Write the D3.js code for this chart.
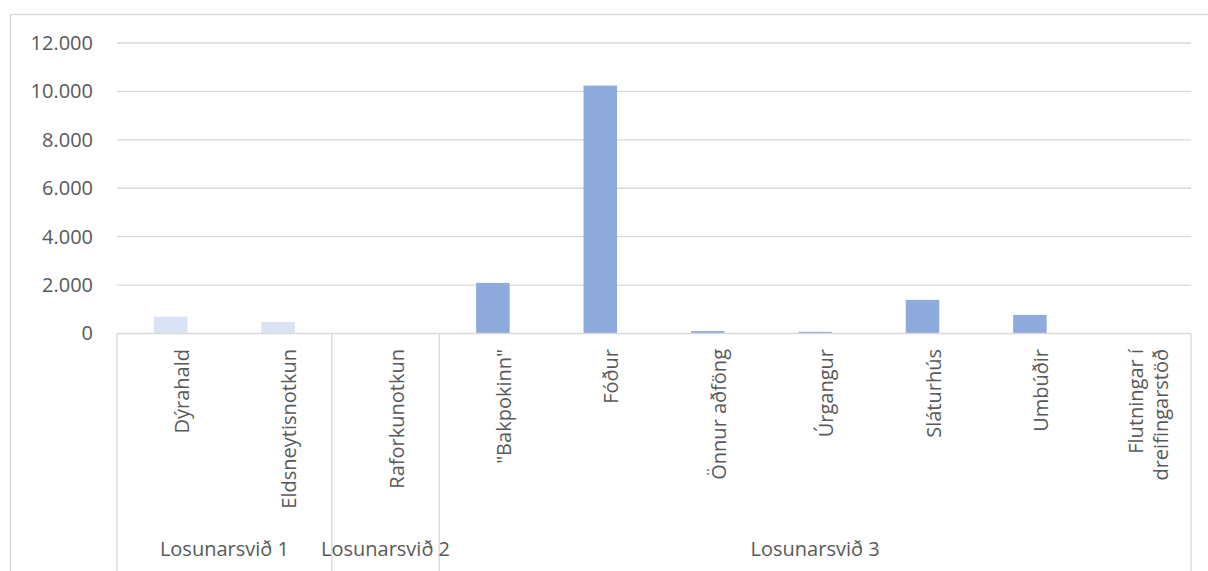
<!DOCTYPE html>
<html>
<head>
<meta charset="utf-8">
<script src="https://cdn.jsdelivr.net/npm/d3@7"></script>
<style>
  body { margin: 0; background: #fff; }
  text { font-family: "Open Sans", sans-serif; fill: #595959; }
</style>
</head>
<body>
<svg id="chart" width="1208" height="571"></svg>
<script>
// flokkar og gildi
var categories = ["Dýrahald", "Eldsneytisnotkun", "Raforkunotkun", "\"Bakpokinn\"", "Fóður",
  "Önnur aðföng", "Úrgangur", "Sláturhús", "Umbúðir", "Flutningar í\ndreifingarstöð"];
var groups = ["Losunarsvið 1", "Losunarsvið 1", "Losunarsvið 2", "Losunarsvið 3", "Losunarsvið 3",
  "Losunarsvið 3", "Losunarsvið 3", "Losunarsvið 3", "Losunarsvið 3", "Losunarsvið 3"];
var values = [700, 480, 0, 2090, 10240, 100, 70, 1390, 770, 0];
var yTicks = [0, 2000, 4000, 6000, 8000, 10000, 12000];
var groupNames = ["Losunarsvið 1", "Losunarsvið 2", "Losunarsvið 3"];
var groupColors = {"Losunarsvið 1": "#dae3f3", "Losunarsvið 2": "#8faadc", "Losunarsvið 3": "#8faadc"};

var svg = d3.select("#chart");
var plotLeft = 117, plotRight = 1191, plotTop = 43, plotBottom = 333.5;
var fontSize = "20px";

var x = d3.scaleBand().domain(d3.range(categories.length)).range([plotLeft, plotRight]).padding(0);
var y = d3.scaleLinear().domain([0, 12000]).range([plotBottom, plotTop]);

// ramminn utan um
svg.append("rect")
  .attr("x", 10.5).attr("y", 14.5)
  .attr("width", 1210).attr("height", 600)
  .attr("fill", "none").attr("stroke", "#d9d9d9").attr("stroke-width", 1.3);

// gridlínur
svg.append("g").selectAll("line").data(yTicks.slice(1)).join("line")
  .attr("x1", plotLeft).attr("x2", plotRight)
  .attr("y1", function (d) { return y(d); }).attr("y2", function (d) { return y(d); })
  .attr("stroke", "#d9d9d9").attr("stroke-width", 1.3);

// y ás
var fmt = function (d) { return d3.format(",")(d).replace(/,/g, "."); };
var yAxis = svg.append("g")
  .attr("transform", "translate(" + (plotLeft - 24) + ",0)")
  .call(d3.axisLeft(y).tickValues(yTicks).tickFormat(fmt).tickSize(0).tickPadding(0));
yAxis.select(".domain").remove();
yAxis.selectAll("text")
  .style("font-size", fontSize)
  .style("font-family", "\"Open Sans\", sans-serif")
  .attr("fill", "#595959");

// súlur
var barW = x.bandwidth() * 0.312;
svg.append("g").selectAll("rect").data(values).join("rect")
  .attr("x", function (d, i) { return x(i) + x.bandwidth() / 2 - barW / 2; })
  .attr("width", barW)
  .attr("y", function (d) { return y(d); })
  .attr("height", function (d) { return plotBottom - y(d); })
  .attr("fill", function (d, i) { return groupColors[groups[i]]; });

// x ás lína
svg.append("line")
  .attr("x1", plotLeft).attr("x2", plotRight).attr("y1", plotBottom).attr("y2", plotBottom)
  .attr("stroke", "#d9d9d9").attr("stroke-width", 1.3);

// skilalínur milli hópa
var bounds = [0];
for (var i = 1; i < groups.length; i++) {
  if (groups[i] != groups[i - 1]) bounds.push(i);
}
bounds.push(groups.length);
svg.append("g").selectAll("line").data(bounds).join("line")
  .attr("x1", function (d) { return d < categories.length ? x(d) : plotRight; })
  .attr("x2", function (d) { return d < categories.length ? x(d) : plotRight; })
  .attr("y1", plotBottom).attr("y2", 571)
  .attr("stroke", "#d9d9d9").attr("stroke-width", 1.3);

// flokkaheiti, snúið
var catG = svg.append("g").selectAll("text").data(categories).join("text")
  .attr("transform", function (d, i) {
    return "translate(" + (x(i) + x.bandwidth() / 2) + ",349) rotate(-90)";
  })
  .attr("text-anchor", "end")
  .style("font-size", fontSize);
catG.each(function (d) {
  var lines = d.split("\n");
  var t = d3.select(this);
  lines.forEach(function (l, k) {
    t.append("tspan")
      .attr("x", 0)
      .attr("dy", k == 0 ? (0.35 - (lines.length - 1) * 0.62 + 0.55) + "em" : "1.24em")
      .text(l);
  });
});

// hópaheiti
svg.append("g").selectAll("text").data(groupNames).join("text")
  .attr("x", function (g) {
    var a = groups.indexOf(g), b = groups.lastIndexOf(g);
    return (x(a) + (b + 1 < categories.length ? x(b + 1) : plotRight)) / 2;
  })
  .attr("y", 549)
  .attr("dy", "0.35em")
  .attr("text-anchor", "middle")
  .style("font-size", fontSize)
  .text(function (g) { return g; });
</script>
</body>
</html>
